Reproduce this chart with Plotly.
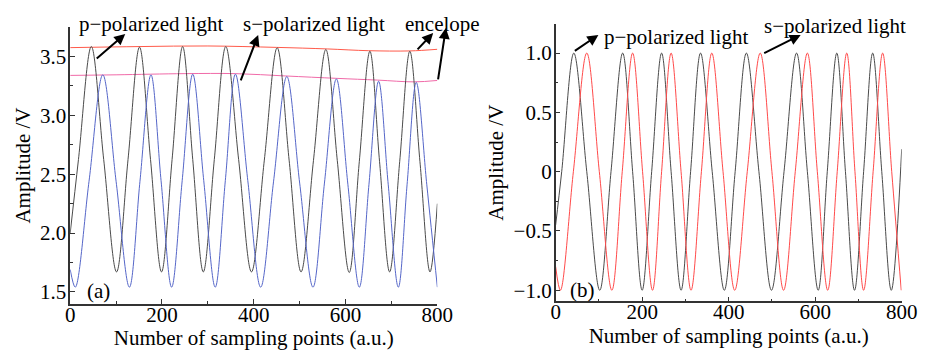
import plotly.graph_objects as go

# ---------------- data ----------------
# Panel (a): raw signals
p_a_x = [0, 18, 46, 73, 101, 126, 151, 175, 199, 222, 245, 267, 290, 314, 339, 367, 395,
         423, 451, 477, 503, 530, 557, 582, 608, 630, 653, 674, 696, 718, 740, 762, 784, 800]
p_a_y = [2.00, 2.625, 3.585, 2.625, 1.67, 2.625, 3.58, 2.625, 1.67, 2.625, 3.585, 2.625, 1.67,
         2.625, 3.585, 2.625, 1.67, 2.62, 3.575, 2.62, 1.67, 2.615, 3.56, 2.615, 1.665, 2.61,
         3.545, 2.61, 1.67, 2.61, 3.545, 2.61, 1.67, 2.25]

s_a_x = [0, 11, 41, 71, 100, 129, 152, 176, 198, 221, 244, 267, 291, 316, 338, 360, 387, 415,
         443, 472, 500, 529, 554, 580, 605, 630, 651, 672, 693, 715, 734, 754, 777, 800]
s_a_y = [1.69, 1.54, 2.44, 3.345, 2.44, 1.54, 2.44, 3.345, 2.445, 1.54, 2.445, 3.35, 2.445,
         1.54, 2.445, 3.35, 2.445, 1.54, 2.435, 3.33, 2.425, 1.54, 2.425, 3.31, 2.415, 1.54,
         2.415, 3.29, 2.41, 1.54, 2.41, 3.28, 2.41, 1.54]

env_up_x = [0, 150, 300, 450, 560, 650, 740, 800]
env_up_y = [3.576, 3.585, 3.59, 3.578, 3.565, 3.55, 3.548, 3.562]
env_lo_x = [0, 100, 250, 360, 470, 580, 670, 750, 800]
env_lo_y = [3.34, 3.345, 3.355, 3.355, 3.335, 3.315, 3.30, 3.285, 3.297]

# Panel (b): normalised signals
p_b_x = [0, 14, 42, 72, 102, 128, 155, 178, 200, 222, 245, 267, 290, 312, 335, 362, 390,
         415, 441, 470, 499, 528, 557, 582, 607, 628, 650, 670, 691, 712, 733, 754, 776, 800]
p_b_y = [-0.45, 0, 1, 0, -1, 0, 1, 0, -1, 0, 1, 0, -1, 0, 1, 0, -1,
         0, 1, 0, -1, 0, 1, 0, -1, 0, 1, 0, -1, 0, 1, 0, -1, 0.19]

s_b_x = [0, 11, 41, 72, 101, 130, 154, 178, 201, 224, 245, 267, 290, 313, 337, 361, 387, 414,
         443, 473, 500, 527, 554, 582, 605, 629, 651, 673, 692, 712, 734, 756, 777, 799]
s_b_y = [-0.80, -1, 0, 1, 0, -1, 0, 1, 0, -1, 0, 1, 0, -1, 0, 1, 0, -1,
         0, 1, 0, -1, 0, 1, 0, -1, 0, 1, 0, -1, 0, 1, 0, -1]

x_ticks = [0, 200, 400, 600, 800]
x_tick_text = ["0", "200", "400", "600", "800"]
x_minor = [100, 300, 500, 700]
ya_ticks = [1.5, 2.0, 2.5, 3.0, 3.5]
ya_tick_text = ["1.5", "2.0", "2.5", "3.0", "3.5"]
ya_minor = [1.75, 2.25, 2.75, 3.25]
yb_ticks = [-1.0, -0.5, 0, 0.5, 1.0]
yb_tick_text = ["\u22121.0", "\u22120.5", "0", "0.5", "1.0"]
yb_minor = [-0.75, -0.25, 0.25, 0.75]

# ---------------- figure ----------------
W, H = 934, 350
FONT = "Liberation Serif"
FS = 21
TFS = 21

fig = go.Figure()

def line(x, y, color, xa, ya, width=1.0):
    fig.add_trace(go.Scatter(x=x, y=y, mode="lines", xaxis=xa, yaxis=ya,
                             line=dict(color=color, width=width, shape="spline", smoothing=1.0),
                             showlegend=False, hoverinfo="skip"))

line(env_up_x, env_up_y, "#ff5a4a", "x", "y")
line(env_lo_x, env_lo_y, "#f06aa8", "x", "y")
line(p_a_x, p_a_y, "#4a4a4a", "x", "y")
line(s_a_x, s_a_y, "#5566c8", "x", "y")
line(p_b_x, p_b_y, "#4a4a4a", "x2", "y2")
line(s_b_x, s_b_y, "#ff4a4a", "x2", "y2")

axis_common = dict(showgrid=False, zeroline=False, showline=True, linecolor="#333333",
                   linewidth=1.5, ticks="inside", ticklen=5, tickwidth=1.2, tickcolor="#333333",
                   tickfont=dict(family=FONT, size=TFS, color="black"), tickmode="array")
minor_common = dict(ticks="inside", ticklen=3, tickcolor="#333333", tickwidth=1.2)

def px2x(px):
    return px / W

def py2y(py):
    return 1 - py / H

XTITLE = "Number of sampling points (a.u.)"
YTITLE = "Amplitude /V"

fig.update_layout(
    width=W, height=H, margin=dict(l=0, r=0, t=0, b=0),
    paper_bgcolor="white", plot_bgcolor="white",
    font=dict(family=FONT, size=FS, color="black"),
    xaxis=dict(domain=[66.7 / W, 442.3 / W], range=[0, 800], anchor="y",
               tickvals=x_ticks, ticktext=x_tick_text, ticklabelstandoff=-9,
               minor=dict(tickmode="array", tickvals=x_minor, **minor_common),
               title=dict(text=XTITLE, font=dict(family=FONT, size=FS), standoff=0),
               **axis_common),
    yaxis=dict(domain=[45 / H, 323 / H], range=[1.396, 3.752], anchor="x",
               tickvals=ya_ticks, ticktext=ya_tick_text, ticklabelstandoff=-2,
               minor=dict(tickmode="array", tickvals=ya_minor, **minor_common),
               title=dict(text=YTITLE, font=dict(family=FONT, size=FS), standoff=4),
               **axis_common),
    xaxis2=dict(domain=[563.3 / W, 917.3 / W], range=[0, 800], anchor="y2",
                tickvals=x_ticks, ticktext=x_tick_text, ticklabelstandoff=-9,
                minor=dict(tickmode="array", tickvals=x_minor, **minor_common),
                title=dict(text=XTITLE, font=dict(family=FONT, size=FS), standoff=0),
                **axis_common),
    yaxis2=dict(domain=[47.7 / H, 326 / H], range=[-1.094, 1.246], anchor="x2",
                tickvals=yb_ticks, ticktext=yb_tick_text, ticklabelstandoff=-2,
                minor=dict(tickmode="array", tickvals=yb_minor, **minor_common),
                title=dict(text=YTITLE, font=dict(family=FONT, size=FS), standoff=4),
                **axis_common),
)

# text labels
texts = [
    ("p\u2212polarized light", 149, 24),
    ("s\u2212polarized light", 316, 24),
    ("encelope", 448, 24),
    ("p\u2212polarized light", 686, 37),
    ("s\u2212polarized light", 849, 26),
    ("(a)", 96, 292),
    ("(b)", 591, 291),
]
for t, x, y in texts:
    fig.add_annotation(text=t, x=px2x(x), y=py2y(y), xref="paper", yref="paper",
                       showarrow=False, xanchor="center", yanchor="middle",
                       font=dict(family=FONT, size=FS, color="black"))

# arrows: (head_px, head_py, tail_px, tail_py)
arrows = [
    (123, 34, 93, 60),
    (259, 35, 241, 82),
    (438, 33, 421, 51),
    (451, 28, 443, 81),
    (607, 35, 582, 52),
    (814, 35, 776, 54),
]
for hx, hy, tx, ty in arrows:
    fig.add_annotation(text="", x=px2x(hx), y=py2y(hy), xref="paper", yref="paper",
                       ax=tx - hx, ay=ty - hy, axref="pixel", ayref="pixel",
                       showarrow=True, arrowhead=2, arrowsize=1.1, arrowwidth=2,
                       arrowcolor="black")

fig.write_html("out.html")
